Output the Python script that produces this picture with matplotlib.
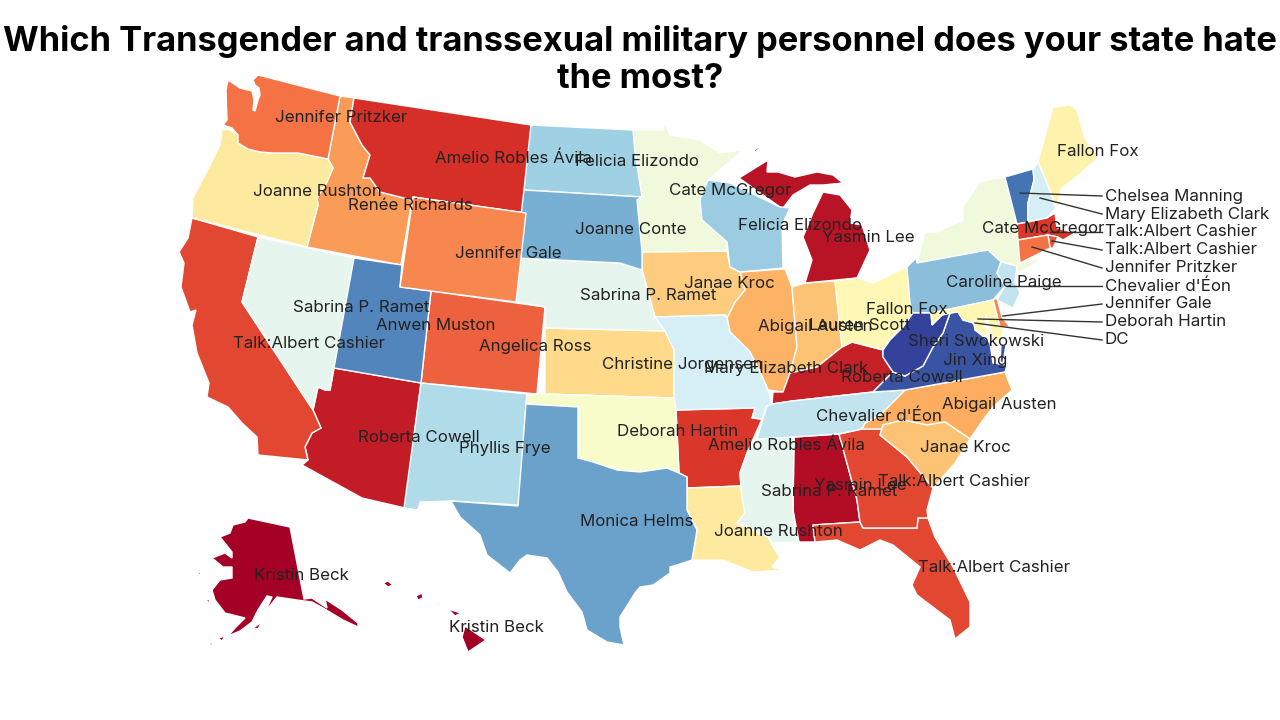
import matplotlib
matplotlib.use("Agg")
import matplotlib.pyplot as plt
from matplotlib.patches import Polygon

plt.rcParams["font.family"] = ["Inter", "DejaVu Sans"]

TITLE = "Which Transgender and transsexual military personnel does your state hate\nthe most?"

# states drawn with the name on the map
STATES = ["AK", "HI", "AL", "AZ", "AR", "CA", "CO", "FL", "GA", "ID", "IL", "IN", "IA", "KS",
          "KY", "LA", "ME", "MI", "MN", "MS", "MO", "MT", "NE", "NV", "NM", "NY", "NC", "ND",
          "OH", "OK", "OR", "PA", "SC", "SD", "TN", "TX", "UT", "VA", "WA", "WV", "WI", "WY"]
PERSONS = ["Kristin Beck", "Kristin Beck", "Yasmin Lee", "Roberta Cowell", "Amelio Robles Ávila",
           "Sabrina P. Ramet", "Angelica Ross", "Talk:Albert Cashier", "Talk:Albert Cashier",
           "Renée Richards", "Abigail Austen", "Lauren Scott", "Janae Kroc", "Christine Jorgensen",
           "Roberta Cowell", "Joanne Rushton", "Fallon Fox", "Yasmin Lee", "Cate McGregor",
           "Sabrina P. Ramet", "Mary Elizabeth Clark", "Amelio Robles Ávila", "Sabrina P. Ramet",
           "Talk:Albert Cashier", "Phyllis Frye", "Cate McGregor", "Abigail Austen",
           "Felicia Elizondo", "Fallon Fox", "Deborah Hartin", "Joanne Rushton", "Caroline Paige",
           "Janae Kroc", "Joanne Conte", "Chevalier d'Éon", "Monica Helms", "Anwen Muston",
           "Jin Xing", "Jennifer Pritzker", "Sheri Swokowski", "Felicia Elizondo", "Jennifer Gale"]
VALUES = [0.0, 0.0, 0.03, 0.06, 0.11, 0.14, 0.18, 0.14, 0.14, 0.27, 0.31, 0.34, 0.36, 0.39,
          0.07, 0.43, 0.46, 0.04, 0.55, 0.58, 0.62, 0.10, 0.58, 0.58, 0.69, 0.55, 0.30, 0.72,
          0.48, 0.52, 0.43, 0.76, 0.34, 0.79, 0.66, 0.82, 0.87, 0.95, 0.21, 0.98, 0.73, 0.24]

# small states with a leader line
CALLOUT_STATES = ["VT", "NH", "MA", "RI", "CT", "NJ", "DE", "MD", "DC"]
CALLOUT_PERSONS = ["Chelsea Manning", "Mary Elizabeth Clark", "Talk:Albert Cashier",
                   "Talk:Albert Cashier", "Jennifer Pritzker", "Chevalier d'Éon",
                   "Jennifer Gale", "Deborah Hartin", "DC"]
CALLOUT_VALUES = [0.90, 0.62, 0.11, 0.16, 0.21, 0.66, 0.24, 0.47, 0.47]

# where the names sit, left edge and middle height in pixels
NAME_POS = {
    "AK": (254, 575), "HI": (449, 627), "AL": (814, 485), "AZ": (358, 437), "AR": (708, 445),
    "CA": (293, 308), "CO": (479, 346), "FL": (918, 568), "GA": (878, 482), "ID": (348, 205),
    "IL": (758, 326), "IN": (809, 326), "IA": (684, 284), "KS": (602, 365), "KY": (841, 377),
    "LA": (714, 532), "ME": (1057, 152), "MI": (822, 238), "MN": (669, 190), "MS": (761, 492),
    "MO": (704, 368), "MT": (435, 158), "NE": (580, 296), "NV": (233, 344), "NM": (459, 448),
    "NY": (982, 229), "NC": (942, 405), "ND": (575, 162), "OH": (866, 309), "OK": (617, 431),
    "OR": (253, 192), "PA": (946, 283), "SC": (920, 447), "SD": (575, 230), "TN": (816, 416),
    "TX": (580, 522), "UT": (376, 325), "VA": (943, 361), "WA": (275, 118), "WV": (908, 341),
    "WI": (738, 225), "WY": (455, 253),
}
CALLOUT_FROM = [(1020, 193), (1040, 198), (1050, 232), (1052, 241), (1032, 247),
                (1007, 286), (1003, 316), (978, 319), (975, 323)]
CALLOUT_Y = [196, 214, 232, 250, 268, 286, 304, 322, 340]

# state outlines traced in pixels, one state can have a few pieces
OUTLINES = {
    "WA": [[(228, 80), (240, 88), (252, 91), (254, 100), (253, 110), (255, 111), (258, 100), (260, 95),
            (259, 88), (255, 85), (253, 80), (258, 75), (340, 96), (328, 159), (298, 153), (273, 153),
            (260, 152), (248, 149), (238, 143), (238, 135), (232, 128), (223, 125), (227, 120), (226, 90)]],
    "OR": [[(222, 130), (228, 129), (238, 135), (238, 143), (248, 149), (260, 152), (273, 153), (298, 153),
            (328, 159), (333, 168), (327, 182), (317, 198), (318, 205), (307, 247), (192, 218), (193, 198),
            (210, 165), (220, 145)]],
    "CA": [[(192, 218), (258, 237), (242, 302), (313, 410), (321, 428), (312, 433), (305, 447), (308, 460),
            (258, 455), (257, 437), (242, 423), (228, 407), (207, 397), (209, 383), (197, 353), (192, 325),
            (196, 310), (190, 312), (181, 287), (184, 263), (179, 252), (188, 238)]],
    "NV": [[(258, 237), (354, 258), (334, 368), (330, 390), (325, 390), (318, 387), (313, 410), (242, 302)]],
    "ID": [[(340, 96), (354, 98), (350, 122), (362, 145), (370, 155), (363, 178), (370, 178), (380, 192),
            (412, 200), (401, 265), (307, 247), (318, 205), (317, 198), (327, 182), (333, 168), (328, 159)]],
    "MT": [[(354, 98), (531, 125), (526, 213), (413, 197), (412, 200), (380, 192), (370, 178), (363, 178),
            (370, 155), (362, 145), (350, 122)]],
    "WY": [[(413, 197), (526, 213), (516, 302), (400, 287)]],
    "UT": [[(354, 258), (402, 265), (400, 287), (431, 291), (421, 383), (334, 368)]],
    "CO": [[(431, 291), (545, 307), (537, 394), (421, 383)]],
    "AZ": [[(334, 368), (421, 383), (405, 508), (362, 498), (302, 465), (308, 460), (305, 447), (312, 433),
            (321, 428), (313, 410), (318, 387), (325, 390), (330, 390)]],
    "NM": [[(421, 383), (527, 394), (526, 404), (519, 505), (451, 501), (420, 502), (418, 510), (404, 508)]],
    "ND": [[(531, 125), (633, 130), (635, 153), (642, 197), (524, 190)]],
    "SD": [[(524, 190), (642, 197), (637, 200), (642, 252), (642, 270), (620, 263), (516, 258)]],
    "NE": [[(516, 258), (620, 263), (642, 270), (655, 317), (665, 331), (545, 328), (545, 307), (516, 302)]],
    "KS": [[(545, 328), (665, 331), (674, 350), (674, 398), (545, 394)]],
    "OK": [[(527, 394), (545, 394), (674, 398), (676, 410), (679, 473), (667, 468), (640, 472), (617, 470),
            (593, 462), (578, 458), (578, 407), (526, 404)]],
    "TX": [[(526, 404), (578, 407), (578, 458), (593, 462), (617, 470), (640, 472), (667, 468), (679, 473),
            (687, 477), (687, 510), (697, 530), (692, 560), (677, 565), (670, 567), (670, 573), (653, 585),
            (640, 587), (635, 593), (620, 617), (620, 627), (624, 645), (607, 642), (587, 630), (582, 612),
            (567, 592), (558, 572), (547, 558), (527, 555), (520, 560), (510, 573), (487, 555), (480, 535),
            (460, 517), (451, 501), (518, 506)]],
    "MN": [[(633, 130), (663, 130), (665, 123), (670, 135), (700, 140), (720, 153), (743, 150), (708, 180),
            (700, 200), (702, 220), (727, 242), (727, 251), (642, 252), (637, 200), (642, 197), (635, 153)]],
    "IA": [[(642, 252), (727, 251), (730, 267), (740, 272), (745, 290), (735, 302), (727, 318), (725, 315),
            (655, 317), (642, 270)]],
    "MO": [[(655, 317), (725, 315), (727, 318), (730, 332), (750, 352), (760, 372), (768, 390), (772, 404),
            (767, 406), (762, 419), (752, 418), (755, 408), (676, 410), (674, 398), (674, 350), (665, 331)]],
    "AR": [[(676, 410), (755, 408), (752, 418), (762, 419), (747, 453), (740, 473), (741, 486), (687, 488),
            (687, 477), (679, 473)]],
    "LA": [[(687, 488), (741, 486), (742, 497), (745, 513), (737, 523), (768, 537), (773, 547), (780, 557),
            (772, 567), (785, 570), (753, 572), (723, 560), (692, 560), (697, 530), (687, 510)]],
    "WI": [[(708, 180), (730, 183), (780, 207), (790, 208), (782, 225), (783, 268), (740, 272), (730, 267),
            (727, 242), (702, 220), (700, 200)]],
    "IL": [[(740, 272), (785, 269), (792, 287), (797, 347), (790, 373), (783, 392), (768, 390), (760, 372),
            (750, 352), (730, 332), (727, 318), (735, 302), (745, 290)]],
    "IN": [[(792, 287), (805, 283), (835, 281), (842, 347), (817, 367), (790, 373), (797, 347)]],
    "OH": [[(835, 281), (857, 278), (873, 283), (907, 267), (910, 303), (913, 313), (903, 327), (890, 340),
            (883, 350), (852, 342), (842, 347)]],
    "MI": [[(739, 178), (768, 160), (767, 172), (778, 172), (795, 177), (817, 172), (833, 175), (843, 183),
            (823, 185), (810, 185), (793, 195), (783, 208), (780, 207)],
           [(805, 283), (812, 260), (803, 237), (813, 213), (823, 192), (840, 195), (852, 210), (850, 223),
            (862, 225), (870, 250), (857, 278)],
           [(754, 150), (761, 146), (760, 148), (755, 152)]],
    "KY": [[(772, 404), (773, 392), (783, 392), (790, 373), (817, 367), (842, 347), (852, 342), (883, 350),
            (883, 357), (893, 372), (873, 392), (792, 401)]],
    "TN": [[(757, 439), (767, 406), (772, 404), (792, 401), (873, 392), (905, 390), (893, 402), (880, 415),
            (865, 423), (862, 429), (839, 434), (794, 437)]],
    "MS": [[(757, 439), (794, 437), (793, 510), (797, 542), (773, 543), (768, 537), (737, 523), (745, 513),
            (742, 497), (741, 486), (740, 473), (747, 453)]],
    "AL": [[(794, 437), (839, 434), (857, 500), (860, 522), (813, 525), (815, 542), (799, 542), (793, 510)]],
    "GA": [[(839, 434), (862, 429), (882, 429), (880, 435), (907, 457), (933, 488), (927, 510), (928, 518),
            (918, 518), (917, 528), (863, 528), (860, 522), (857, 500)]],
    "FL": [[(813, 525), (860, 522), (863, 528), (917, 528), (918, 518), (928, 518), (935, 537), (953, 567),
            (970, 602), (970, 627), (955, 639), (950, 620), (917, 595), (912, 585), (920, 567), (893, 545),
            (880, 540), (860, 550), (837, 540), (815, 542)]],
    "SC": [[(880, 435), (883, 425), (903, 420), (927, 425), (945, 422), (970, 439), (955, 463), (933, 488),
            (907, 457)]],
    "NC": [[(862, 429), (865, 423), (880, 415), (893, 402), (905, 390), (1005, 372), (1008, 380), (1012, 390),
            (993, 407), (983, 420), (970, 439), (945, 422), (927, 425), (903, 420), (883, 425), (882, 429)]],
    "VA": [[(873, 392), (893, 372), (905, 376), (923, 366), (933, 347), (943, 333), (950, 313), (958, 312),
            (963, 320), (974, 323), (975, 330), (985, 338), (990, 343), (993, 363), (1007, 365), (1005, 372),
            (905, 390)],
           [(1001, 345), (1006, 345), (1003, 363), (1000, 362)]],
    "WV": [[(913, 313), (931, 313), (932, 325), (942, 315), (950, 313), (943, 333), (933, 347), (923, 366),
            (905, 376), (893, 372), (883, 357), (883, 350), (890, 340), (903, 327)]],
    "PA": [[(907, 267), (916, 258), (917, 263), (988, 250), (1001, 262), (997, 273), (1005, 286), (993, 300),
            (931, 313), (913, 313), (910, 303)]],
    "NY": [[(917, 263), (925, 232), (937, 232), (963, 220), (963, 207), (980, 182), (1005, 177), (1017, 224),
            (1018, 240), (1020, 263), (1043, 258), (1030, 267), (1017, 273), (1017, 266), (1001, 262), (988, 250)]],
    "ME": [[(1038, 162), (1053, 107), (1070, 105), (1077, 110), (1085, 138), (1098, 158), (1075, 178),
            (1062, 188), (1056, 208), (1047, 183)]],
    "VT": [[(1005, 177), (1033, 169), (1034, 180), (1028, 203), (1028, 222), (1017, 224)]],
    "NH": [[(1033, 169), (1038, 162), (1047, 183), (1056, 208), (1047, 218), (1028, 222), (1028, 203),
            (1034, 180)]],
    "MA": [[(1017, 224), (1028, 222), (1047, 218), (1055, 213), (1057, 228), (1075, 233), (1063, 240),
            (1058, 237), (1048, 235), (1018, 240)]],
    "RI": [[(1048, 235), (1058, 237), (1053, 248), (1050, 248)]],
    "CT": [[(1018, 240), (1048, 235), (1050, 248), (1020, 263)]],
    "NJ": [[(1001, 262), (1017, 266), (1015, 282), (1020, 293), (1013, 308), (997, 300), (1005, 286), (997, 273)]],
    "DE": [[(993, 300), (997, 298), (1002, 317), (1010, 327), (1000, 327)]],
    "MD": [[(931, 313), (993, 300), (1000, 327), (1004, 328), (1000, 341), (993, 340), (989, 325), (986, 314),
            (985, 325), (990, 338), (975, 330), (974, 323), (963, 320), (958, 312), (950, 313),
            (942, 315), (932, 325)]],
    "DC": [[(972, 321), (975, 320), (976, 323), (973, 324)]],
    "AK": [[(248, 518), (290, 527), (304, 599), (312, 598), (327, 608), (325, 599), (342, 610), (358, 623),
            (358, 627), (343, 620), (323, 608), (312, 602), (297, 600), (277, 597), (265, 612), (272, 597),
            (267, 596), (258, 610), (252, 622), (240, 631), (228, 636), (235, 628), (245, 618), (225, 613),
            (215, 600), (212, 590), (220, 580), (232, 578), (232, 567), (223, 567), (212, 558), (225, 553),
            (232, 558), (232, 552), (220, 537), (230, 533), (233, 525), (245, 522)],
           [(253, 628), (262, 622), (258, 629)],
           [(194, 570), (201, 573), (200, 575)],
           [(205, 599), (210, 600), (209, 603)],
           [(207, 645), (213, 642), (212, 645)],
           [(218, 638), (225, 636), (222, 641)]],
    "HI": [[(383, 583), (388, 581), (393, 585), (388, 587)],
           [(416, 596), (422, 593), (423, 598), (418, 600)],
           [(435, 604), (440, 603), (440, 605)],
           [(448, 609), (461, 613), (455, 616), (452, 613)],
           [(465, 626), (486, 640), (468, 652), (462, 637)]],
}

fig = plt.figure(figsize=(12.8, 7.2), dpi=100)
ax = fig.add_axes([0, 0, 1, 1])
cmap = plt.get_cmap("RdYlBu")

# fill the states
for state, value in zip(STATES + CALLOUT_STATES, VALUES + CALLOUT_VALUES):
    for piece in OUTLINES[state]:
        ax.add_patch(Polygon(piece, closed=True, facecolor=cmap(value), edgecolor="white", linewidth=1, zorder=1))

# names on the map
for state, person in zip(STATES, PERSONS):
    x, y = NAME_POS[state]
    ax.text(x, y, person, ha="left", va="center", fontsize=12.2, color="#222222", zorder=3)

# leader lines for the small states
for start, y, person in zip(CALLOUT_FROM, CALLOUT_Y, CALLOUT_PERSONS):
    ax.plot([start[0], 1102], [start[1], y], color="#333333", linewidth=1, zorder=2)
    ax.text(1105, y, person, ha="left", va="center", fontsize=12.2, color="#222222", zorder=3)

ax.text(640, 60, TITLE, ha="center", va="center", fontsize=24.8, fontweight="bold", color="black",
        linespacing=1.2)

ax.set_xlim(0, 1280)
ax.set_ylim(720, 0)
ax.axis("off")

fig.savefig("out.png", dpi=100)
